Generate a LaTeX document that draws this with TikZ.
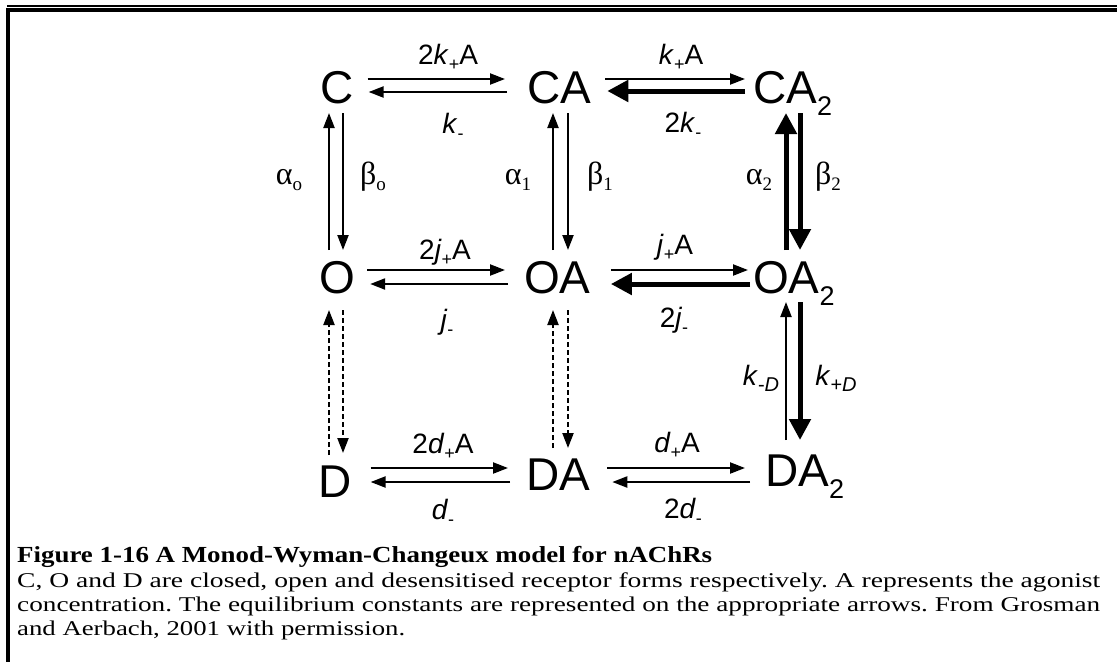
\documentclass[tikz,border=0pt]{standalone}
\usepackage{fontspec}
\setmainfont{Liberation Sans}
\newfontfamily\timesfont{Liberation Serif}
\usepackage{graphicx}
\usetikzlibrary{arrows.meta, calc}
\frenchspacing

\newcommand{\subtwo}{\raisebox{-12pt}{\fontsize{27}{27}\selectfont 2}}
\newcommand{\rsub}[1]{\raisebox{-6pt}{\fontsize{18}{18}\selectfont #1}}
\newcommand{\gsub}[1]{\raisebox{-6pt}{\timesfont\fontsize{19}{19}\selectfont #1}}

\tikzset{
  state/.style={inner sep=0pt, anchor=base west, font=\fontsize{46}{46}\selectfont},
  rate/.style={inner sep=0pt, anchor=base, font=\fontsize{28}{28}\selectfont},
  greek/.style={inner sep=0pt, anchor=base, font=\timesfont\fontsize{32}{32}\selectfont},
  captext/.style={inner sep=0pt, anchor=base west, font=\timesfont\fontsize{21}{24}\selectfont},
  fwd/.style={line width=2.2pt, -{Triangle[length=15pt,width=11pt]}},
  fwdthick/.style={line width=5pt, -{Triangle[length=21pt,width=21pt]}},
  fwddash/.style={fwd, dash pattern=on 5pt off 3pt}
}

\begin{document}
\begin{tikzpicture}[x=1pt,y=-1pt]
\useasboundingbox (0,0) rectangle (1117,662);
\draw[line width=2pt] (7,6) -- (1117,6);
\draw[line width=3.5pt] (6,10) -- (1117,10);
\draw[line width=3.5pt] (7.75,8.5) -- (7.75,662);

\node[state] (C) at (320,103) {C};
\node[state] (CA) at (527,103) {CA};
\node[state] (CA2) at (753,103) {CA\subtwo};
\node[state] (O) at (319,293) {O};
\node[state] (OA) at (524,293) {OA};
\node[state] (OA2) at (753,293) {OA\subtwo};
\node[state] (D) at (318,497) {D};
\node[state] (DA) at (526,490) {DA};
\node[state] (DA2) at (765,486) {DA\subtwo};

\draw[fwd] ($(C.base east)+(14,-24)$) -- ($(CA.base west)+(-22,-24)$);
\draw[fwd] ($(CA.base west)+(-20,-11)$) -- ($(C.base east)+(15,-11)$);
\draw[fwd] ($(CA.base east)+(14,-24)$) -- ($(CA2.base west)+(-8,-24)$);
\draw[fwdthick] ($(CA2.base west)+(-8,-12)$) -- ($(CA.base east)+(16,-12)$);
\draw[fwd] ($(O.base east)+(12,-23)$) -- ($(OA.base west)+(-19,-23)$);
\draw[fwd] ($(OA.base west)+(-16,-9)$) -- ($(O.base east)+(15,-9)$);
\draw[fwd] ($(OA.base east)+(20,-23)$) -- ($(OA2.base west)+(-5,-23)$);
\draw[fwdthick] ($(OA2.base west)+(-3,-9)$) -- ($(OA.base east)+(20,-9)$);
\draw[fwd] ($(D.base east)+(19,-29)$) -- ($(DA.base west)+(-18,-22)$);
\draw[fwd] ($(DA.base west)+(-16,-8)$) -- ($(D.base east)+(19,-15)$);
\draw[fwd] ($(DA.base east)+(17,-22)$) -- ($(DA2.base west)+(-20,-18)$);
\draw[fwd] ($(DA2.base west)+(-15,-4)$) -- ($(DA.base east)+(22,-8)$);

\draw[fwd] ($(O.base west)+(10,-43)$) -- ($(C.base west)+(9,10)$);
\draw[fwd] ($(C.base west)+(23,10)$) -- ($(O.base west)+(24,-43)$);
\draw[fwd] ($(OA.base west)+(29,-43)$) -- ($(CA.base west)+(26,10)$);
\draw[fwd] ($(CA.base west)+(41,10)$) -- ($(OA.base west)+(44,-43)$);
\draw[fwdthick] ($(OA2.base west)+(33,-43)$) -- ($(CA2.base west)+(33,10)$);
\draw[fwdthick] ($(CA2.base west)+(47,10)$) -- ($(OA2.base west)+(47,-43)$);
\draw[fwddash] ($(D.base west)+(11,-42)$) -- ($(O.base west)+(10,17)$);
\draw[fwddash] ($(O.base west)+(24,17)$) -- ($(D.base west)+(25,-44)$);
\draw[fwddash] ($(DA.base west)+(27,-42)$) -- ($(OA.base west)+(29,17)$);
\draw[fwddash] ($(OA.base west)+(44,17)$) -- ($(DA.base west)+(42,-42)$);
\draw[fwd] ($(DA2.base west)+(21,-46)$) -- ($(OA2.base west)+(33,9)$);
\draw[fwdthick] ($(OA2.base west)+(47,9)$) -- ($(DA2.base west)+(35,-46)$);

\node[rate] (kon1) at (448,64) {2\textit{k}\rsub{+}A};
\node[rate] (koff1) at (453,133) {\textit{k}\rsub{-}};
\node[rate] (kon2) at (681,64) {\textit{k}\rsub{+}A};
\node[rate] (koff2) at (683,132) {2\textit{k}\rsub{-}};
\node[greek] (a0) at (289,184) {α\gsub{o}};
\node[greek] (b0) at (373,184) {β\gsub{o}};
\node[greek] (a1) at (518,184) {α\gsub{1}};
\node[greek] (b1) at (600,184) {β\gsub{1}};
\node[greek] (a2) at (759,184) {α\gsub{2}};
\node[greek] (b2) at (828,184) {β\gsub{2}};
\node[rate] (jon1) at (445,259) {2\textit{j}\rsub{+}A};
\node[rate] (joff1) at (447,329) {\textit{j}\rsub{-}};
\node[rate] (jon2) at (675,254) {\textit{j}\rsub{+}A};
\node[rate] (joff2) at (674,327) {2\textit{j}\rsub{-}};
\node[rate] (kmD) at (761,385) {\textit{k}\raisebox{-6pt}{\fontsize{20}{20}\selectfont -\textit{D}}};
\node[rate] (kpD) at (836,385) {\textit{k}\raisebox{-6pt}{\fontsize{20}{20}\selectfont +\textit{D}}};
\node[rate] (don1) at (443,453) {2\textit{d}\rsub{+}A};
\node[rate] (doff1) at (443,519) {\textit{d}\rsub{-}};
\node[rate] (don2) at (677,452) {\textit{d}\rsub{+}A};
\node[rate] (doff2) at (683,518) {2\textit{d}\rsub{-}};

\node[captext, font=\timesfont\bfseries\fontsize{23}{24}\selectfont] (capA) at (17,562) {\resizebox{695pt}{\height}{Figure 1-16 A Monod-Wyman-Changeux model for nAChRs}};
\node[captext] (capB) at (17,587) {\resizebox{1083pt}{\height}{C, O and D are closed, open and desensitised receptor forms respectively. A represents the agonist}};
\node[captext] (capC) at (17,611) {\resizebox{1083pt}{\height}{concentration. The equilibrium constants are represented on the appropriate arrows. From Grosman}};
\node[captext] (capD) at (17,635) {\resizebox{388pt}{\height}{and Aerbach, 2001 with permission.}};
\end{tikzpicture}
\end{document}
